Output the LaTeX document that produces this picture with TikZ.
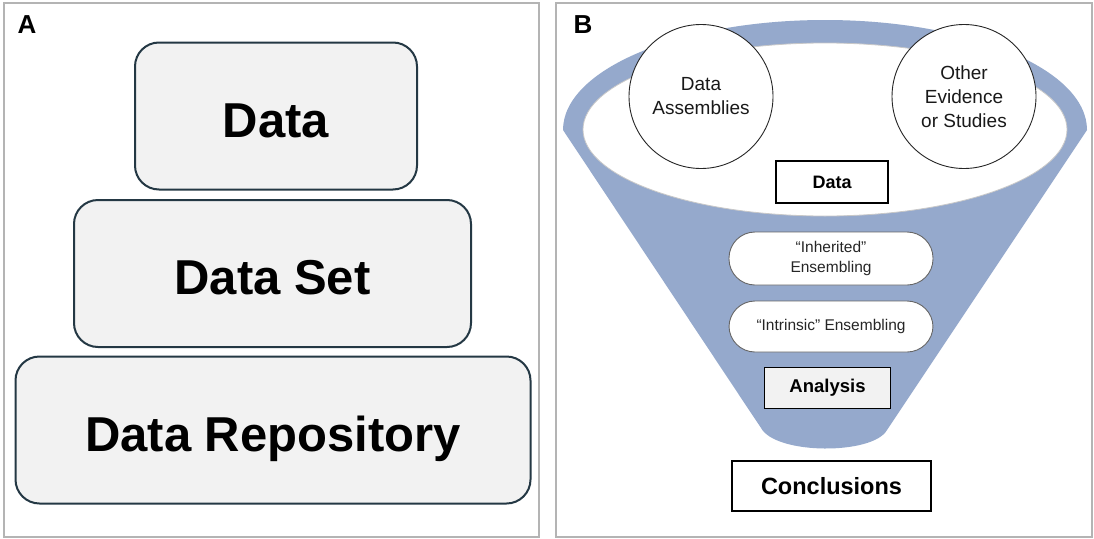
\documentclass[tikz,border=0pt]{standalone}
\usepackage{fontspec}
\setmainfont{Liberation Sans}
\definecolor{framec}{HTML}{B4B4B4}
\definecolor{boxfill}{HTML}{F2F2F2}
\definecolor{boxline}{HTML}{243844}
\definecolor{funnelc}{HTML}{95A9CC}
\definecolor{ovalline}{HTML}{666666}
\definecolor{ellline}{HTML}{C8C8C8}
\begin{document}
\begin{tikzpicture}[x=1pt,y=-1pt,
  panelframe/.style={draw=framec,line width=1.3pt},
  panellabel/.style={font=\fontsize{26}{30}\selectfont\bfseries,anchor=center},
  tierbox/.style={draw=boxline,fill=boxfill,line width=2pt,rounded corners=24pt,
     font=\fontsize{49}{58}\selectfont\bfseries,text height=42pt,text depth=0pt,inner sep=0pt},
  bubble/.style={circle,draw=black!85,fill=white,line width=0.9pt,minimum size=144pt,inner sep=0pt,
     align=center,font=\fontsize{19}{24}\selectfont,text=black!90},
  labelbox/.style={draw=black,line width=1.1pt,inner sep=0pt,font=\bfseries},
  pill/.style={draw=ovalline,fill=white,line width=0.9pt,rounded corners=26pt,inner sep=0pt,
     align=center,font=\fontsize{15.5}{20}\selectfont,text=black!85}
]
\useasboundingbox (0,0) rectangle (1094,538);
\fill[white] (0,0) rectangle (1094,538);
% panel frames
\draw[panelframe] (4,3) rectangle (539,537);
\draw[panelframe] (556,3) rectangle (1092,537);
\node[panellabel] (lA) at (27,25) {A};
\node[panellabel] (lB) at (583,25) {B};
% panel A
\node[tierbox,minimum width=282pt,minimum height=147pt] (data) at (276,116) {Data};
\node[tierbox,minimum width=397pt,minimum height=147pt] (dataset) at (272.5,273.5) {Data Set};
\node[tierbox,minimum width=515pt,minimum height=147pt] (repo) at (273,430) {Data Repository};
% panel B funnel
\fill[funnelc] (563,130) arc[start angle=180,end angle=360,x radius=262,y radius=110]
  -- (887,430) .. controls (873,455) and (776,455) .. (761,428) -- cycle;
\draw[white,line width=1pt,opacity=0.8] (566,148) -- (760,428);
\fill[white] (825,129.5) ellipse[x radius=242,y radius=86.5];
\draw[ellline,line width=0.8pt] (825,129.5) ellipse[x radius=242,y radius=86.5];
\node[bubble] (assem) at (701,96.5) {Data\\Assemblies};
\node[bubble] (other) at (964,96.5) {Other\\Evidence\\or Studies};
\node[labelbox,fill=white,minimum width=112pt,minimum height=42pt,
  font=\fontsize{18}{22}\selectfont\bfseries] (bdata) at (832,182) {Data};
\node[pill,minimum width=204pt,minimum height=53pt] (inh) at (831,258.5) {\textquotedblleft Inherited\textquotedblright\\Ensembling};
\node[pill,minimum width=204pt,minimum height=51pt] (intr) at (831,326.5) {\textquotedblleft Intrinsic\textquotedblright\ Ensembling};
\node[labelbox,fill=boxfill,minimum width=126pt,minimum height=41pt,
  font=\fontsize{18.5}{22}\selectfont\bfseries] (anal) at (827.5,388) {Analysis};
\node[labelbox,fill=white,minimum width=199pt,minimum height=50pt,
  font=\fontsize{23.5}{28}\selectfont\bfseries] (concl) at (831.5,486) {Conclusions};
\end{tikzpicture}
\end{document}
